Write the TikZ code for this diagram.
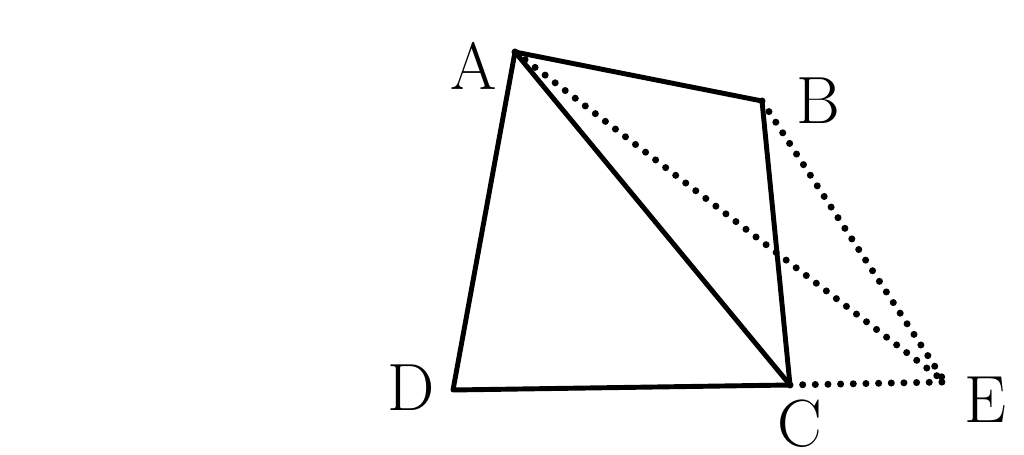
\documentclass[tikz,border=0pt]{standalone}
\usetikzlibrary{positioning}

\begin{document}
\begin{tikzpicture}[x=0.01cm,y=-0.01cm,
  side/.style={line width=1.4pt,line join=round},
  aux/.style={line width=2pt,dash pattern=on 0pt off 3.6pt,line cap=round},
  lbl/.style={font=\fontsize{19}{21}\selectfont,inner sep=1pt}]
 \useasboundingbox (0,0) rectangle (1024,455);
 % points of the figure
 \coordinate (A) at (515,52);
 \coordinate (B) at (762,101);
 \coordinate (C) at (790,385);
 \coordinate (D) at (453,390);
 \coordinate (E) at (945,382);
 % quadrilateral and diagonal
 \draw[side] (A) -- (B) -- (C) -- (D) -- cycle;
 \draw[side] (A) -- (C);
 % dotted lines to E
 \draw[aux] (A) -- (E);
 \draw[aux] (B) -- (E);
 \draw[aux] (C) -- (E);
 % labels
 \node[lbl] (lA) at (474,66) {A};
 \node[lbl] (lB) at (818,101) {B};
 \node[lbl] (lC) at (800,424) {C};
 \node[lbl] (lD) at (411,388) {D};
 \node[lbl] (lE) at (985,400) {E};
\end{tikzpicture}
\end{document}
